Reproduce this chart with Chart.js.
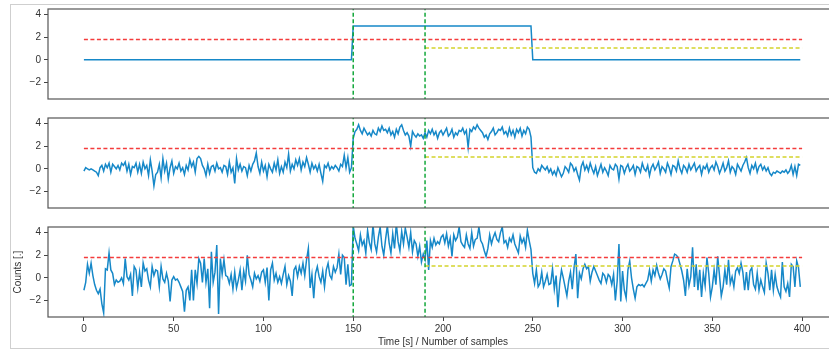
<!DOCTYPE html>
<html>
<head>
<meta charset="utf-8">
<script src="https://cdn.jsdelivr.net/npm/chart.js@4"></script>
<style>
  html, body { margin: 0; padding: 0; background: #fff; overflow: hidden; width: 829px; height: 352px; }
  #box { position: absolute; left: 10px; top: 4px; width: 860px; height: 343px; border: 1px solid #cfcfcf; }
  canvas { position: absolute; left: 0; }
</style>
</head>
<body>
<div id="box"></div>
<canvas id="p1" width="850" height="108" style="top:0px"></canvas>
<canvas id="p2" width="850" height="108" style="top:109px"></canvas>
<canvas id="p3" width="850" height="134" style="top:218px"></canvas>
<script>
// ticks
const xTicks = [0, 50, 100, 150, 200, 250, 300, 350, 400];
const yTicks = [-2, 0, 2, 4];

// top panel: clean step signal (corner points)
const stepX = [0, 149, 150, 249, 250, 399];
const stepY = [0, 0, 3, 3, 0, 0];

// middle panel: low noise signal, one value per sample
const mid = [
  -0.2,0.1,0.0,-0.1,0.0,-0.1,-0.2,-0.3,-0.6,0.1,
  0.3,-0.2,0.4,0.1,0.5,-0.3,0.4,0.2,0.0,0.3,
  -0.1,0.5,0.3,0.6,-0.2,0.4,-0.5,0.2,0.1,0.5,
  -0.3,0.4,-0.4,0.6,0.0,0.3,-0.6,0.8,-0.2,-1.5,
  -0.5,-0.3,0.4,-0.8,0.9,-0.2,0.5,-0.9,0.1,0.7,
  -0.4,0.2,0.0,0.5,-0.2,0.1,-0.5,0.3,-0.1,0.8,
  0.2,0.6,-0.3,0.9,1.1,0.9,0.3,0.0,-0.6,0.4,
  -0.4,0.2,0.3,-0.2,0.5,0.0,0.1,-0.3,0.3,0.2,
  -0.5,0.6,-0.3,0.1,-1.3,0.9,-0.1,0.4,-0.2,0.2,
  0.1,-0.6,0.3,-0.2,0.4,0.7,1.4,0.2,-0.4,0.6,
  -0.2,0.3,-0.7,0.4,0.0,-0.3,0.5,-0.1,0.8,-0.4,
  0.2,-0.3,0.6,0.1,1.3,-0.2,0.4,0.0,0.8,0.3,
  0.9,-0.1,0.6,0.2,1.0,0.4,-0.3,0.5,0.0,0.3,
  -0.2,0.4,-0.4,-1.1,0.3,0.1,0.5,-0.1,0.2,0.0,
  0.3,0.1,-0.2,0.4,0.2,1.2,0.1,1.0,-0.3,0.1,
  2.7,3.3,3.5,3.9,3.4,3.1,3.6,3.3,3.0,3.2,
  2.9,3.4,3.1,3.0,3.6,3.3,3.8,3.4,3.5,3.2,
  3.6,3.0,3.3,2.8,3.5,3.1,3.7,3.9,3.4,3.0,
  3.2,2.9,2.0,3.3,3.0,2.8,3.1,2.9,3.0,2.7,
  3.2,2.8,3.4,3.1,3.5,3.0,3.3,2.7,3.2,3.4,
  3.0,3.3,3.6,2.9,3.1,3.5,2.8,3.2,3.0,3.4,
  3.3,3.6,3.1,3.4,1.9,3.5,3.3,3.7,3.5,3.9,
  3.6,3.4,3.2,2.8,3.0,2.6,3.1,3.3,3.6,3.0,
  3.2,3.5,3.4,3.7,3.1,3.3,2.9,3.6,3.0,3.4,
  2.8,3.5,3.2,3.6,2.9,3.4,3.1,3.7,3.5,2.8,
  0.1,-0.3,-0.4,0.0,-0.2,0.3,0.1,-0.1,0.2,-0.3,
  0.0,-0.5,-0.2,-0.6,0.1,-0.3,-0.7,-0.4,0.2,0.0,
  -0.3,0.5,0.3,-0.2,0.1,-0.5,-1.0,0.2,0.6,-0.1,
  0.3,-0.2,0.5,0.0,-0.4,0.2,-0.6,-0.1,0.4,-0.3,
  0.1,-0.2,-0.6,0.3,0.0,-0.1,0.4,0.2,-0.9,0.3,
  0.2,-0.4,0.1,0.4,-0.2,0.0,0.3,-0.5,0.2,0.1,
  -0.3,0.5,0.0,-0.2,0.3,-0.6,0.1,0.4,-0.1,0.2,
  0.6,-0.4,0.2,0.0,-0.3,0.5,0.1,-0.5,0.3,0.2,
  -0.2,0.7,0.0,-0.4,0.3,0.1,-0.3,0.4,-0.1,0.2,
  0.5,-0.2,0.1,0.3,-0.5,0.2,0.0,0.4,-0.3,0.1,
  0.3,-0.1,0.6,0.2,-0.4,0.0,0.5,-0.2,0.1,0.7,
  -0.3,0.2,0.0,-0.5,0.4,0.1,-0.2,0.3,0.6,1.0,
  0.1,-0.4,0.3,0.0,0.5,-0.3,0.2,0.4,-0.1,0.2,
  -0.2,0.1,-0.4,-0.6,-0.3,-0.4,-0.2,-0.3,-0.4,-0.2,
  -0.3,-0.1,-0.4,-0.2,0.3,-0.5,0.2,-0.6,0.4,0.3
];

// bottom panel: high noise signal
const bot = [
  -1.1,-0.4,1.2,0.4,1.3,0.2,-0.6,-1.1,-1.4,-1.0,
  -2.3,-3.1,0.8,0.7,2.2,0.7,0.4,-0.6,-0.2,-0.4,
  -0.3,0.0,-0.5,1.7,0.1,-0.2,0.3,-1.6,1.0,0.7,
  -0.9,0.5,-0.8,1.3,0.6,0.8,-0.2,-0.8,1.0,0.2,
  0.7,0.6,-0.8,1.0,-0.1,-0.4,0.4,-0.3,-2.1,-0.2,
  0.1,-0.2,-0.1,-0.4,-0.8,-1.2,-3.0,-1.1,-0.8,-2.0,
  0.7,-2.0,0.7,-0.5,1.7,1.3,-0.4,1.7,-0.4,0.8,
  -2.7,2.3,-0.4,0.5,2.9,-3.2,1.7,0.3,1.6,0.2,
  0.1,-0.5,0.3,-1.0,0.5,-0.9,-0.2,0.7,-1.1,0.6,
  -0.3,2.0,0.3,-0.2,-0.8,0.4,-0.1,0.2,-0.3,0.5,
  0.7,-0.4,0.9,-2.0,0.7,1.3,-0.2,0.4,-0.4,0.1,
  -0.5,0.3,1.0,-0.6,0.2,-0.3,-1.6,0.7,1.0,0.1,
  1.0,0.4,1.3,0.2,1.6,2.6,-0.9,0.3,-1.8,0.4,
  1.0,0.1,-0.4,0.6,-0.8,0.7,1.3,0.2,-0.1,1.0,
  0.5,0.9,2.1,0.3,2.0,1.8,-0.6,1.2,-0.7,-0.6,
  4.6,3.5,3.0,2.4,3.8,2.9,3.3,2.2,4.2,3.1,
  2.5,4.7,3.0,2.3,3.6,4.5,2.8,2.0,3.4,4.6,
  3.1,2.2,3.9,2.6,4.8,3.2,2.4,4.1,3.0,4.4,
  3.6,2.7,4.0,2.3,3.3,3.0,1.9,2.8,1.4,2.1,
  1.6,3.3,0.7,3.3,2.7,3.5,2.9,3.2,3.0,3.6,
  3.8,3.1,3.9,2.8,3.5,1.9,3.8,3.3,3.6,4.5,
  3.2,2.9,2.7,3.8,3.0,2.6,4.0,2.8,3.4,3.5,
  4.5,3.3,3.0,2.4,1.9,2.6,3.8,3.0,3.6,4.0,
  3.4,3.2,4.0,4.5,3.1,3.3,2.7,3.5,3.2,3.8,
  3.0,2.6,2.2,3.7,3.1,3.5,2.7,4.2,3.3,2.5,
  0.4,-0.5,0.7,-0.8,-0.5,0.5,-0.8,-0.3,0.3,-0.6,
  -0.5,0.8,-1.0,0.2,-2.6,-0.5,0.7,0.0,-0.8,-1.6,
  -0.3,0.5,-1.0,0.9,2.1,-1.8,0.4,-0.1,0.8,1.2,
  0.8,1.0,-0.3,0.5,1.0,0.6,0.2,-0.2,-0.5,0.4,
  0.2,-0.4,0.3,0.1,-0.6,0.3,-2.0,-0.3,3.0,-2.1,
  0.6,-1.1,-1.8,0.7,1.5,0.0,-1.0,-1.8,-0.8,-0.6,
  -0.7,-0.6,-0.8,-0.5,-0.2,0.7,-0.3,0.7,0.2,1.1,
  0.4,-0.1,0.3,0.8,0.6,-0.2,-0.9,1.0,1.5,2.1,
  2.0,1.8,1.2,0.6,-0.2,-1.6,0.8,-0.7,0.1,2.7,
  -0.8,1.2,-1.1,0.7,-1.7,0.4,-0.7,1.8,0.4,-1.7,
  -0.8,0.7,-0.6,1.9,0.2,-1.6,-0.8,0.7,-0.6,1.6,
  -0.5,0.1,-0.8,0.6,0.9,0.4,1.3,0.5,-1.1,0.5,
  -1.1,0.6,0.9,-0.6,-1.0,0.4,-1.1,-0.2,-0.8,-1.3,
  1.3,0.4,-1.1,0.7,-1.1,0.3,-0.8,-1.3,-1.7,1.4,
  -0.8,-1.2,-0.5,-1.7,1.2,1.0,-0.8,1.5,0.9,-0.8
];

// reference lines
const redLevel = 1.8;
const redX = [0, 400];
const yellowLevel = 1.05;
const yellowX = [190, 400];
const greenX = [150, 190];

const font = { family: 'Liberation Sans, Arial, sans-serif', size: 10 };
const txt = '#333';

const frame = {
  id: 'frame',
  afterDraw(c) {
    const a = c.chartArea, g = c.ctx;
    g.save();
    g.strokeStyle = '#555';
    g.lineWidth = 1.2;
    g.strokeRect(a.left, a.top, a.right - a.left, a.bottom - a.top);
    g.restore();
  }
};

function panel(id, points, bottom) {
  const ds = [];
  greenX.forEach(x => ds.push({
    data: [{ x: x, y: -10 }, { x: x, y: 10 }],
    borderColor: '#14a83c', borderDash: [4, 2.5], borderWidth: 1.5, clip: 0
  }));
  ds.push({ data: yellowX.map(x => ({ x: x, y: yellowLevel })),
    borderColor: '#d4d42c', borderDash: [4, 2.5], borderWidth: 1.5, clip: 0 });
  ds.push({ data: redX.map(x => ({ x: x, y: redLevel })),
    borderColor: '#f43c3c', borderDash: [4, 2.5], borderWidth: 1.5, clip: 0 });
  ds.push({ data: points, borderColor: '#1688c8', borderWidth: 1.5, clip: 0 });

  new Chart(document.getElementById(id), {
    type: 'line',
    data: { datasets: ds },
    plugins: [frame],
    options: {
      responsive: false,
      animation: false,
      layout: { padding: { top: 9, right: 12, bottom: bottom ? 0 : 9, left: 0 } },
      elements: { point: { radius: 0 }, line: { tension: 0 } },
      plugins: { legend: { display: false }, tooltip: { enabled: false } },
      scales: {
        x: {
          type: 'linear', min: -20, max: 420, display: bottom,
          afterBuildTicks: s => { s.ticks = xTicks.map(v => ({ value: v })); },
          afterFit: s => { if (bottom) s.height = 35; },
          grid: { drawOnChartArea: false, tickLength: 4, color: '#444' },
          border: { display: false },
          ticks: { font: font, color: txt, padding: 2, maxRotation: 0 },
          title: { display: bottom, text: 'Time [s] / Number of samples', font: font, color: txt, padding: { top: 0, bottom: 4 } }
        },
        y: {
          min: -3.47, max: 4.5,
          afterBuildTicks: s => { s.ticks = yTicks.map(v => ({ value: v })); },
          afterFit: s => { s.width = 48; },
          grid: { drawOnChartArea: false, tickLength: 4, color: '#444' },
          border: { display: false },
          ticks: { font: font, color: txt, padding: 3, callback: v => String(v).replace('-', '\u2212') },
          title: { display: bottom, text: 'Counts [.]', font: font, color: txt, padding: { top: 12, bottom: 0 } }
        }
      }
    }
  });
}

panel('p1', stepX.map((x, i) => ({ x: x, y: stepY[i] })), false);
panel('p2', mid.map((v, i) => ({ x: i, y: v })), false);
panel('p3', bot.map((v, i) => ({ x: i, y: v })), true);
</script>
</body>
</html>
